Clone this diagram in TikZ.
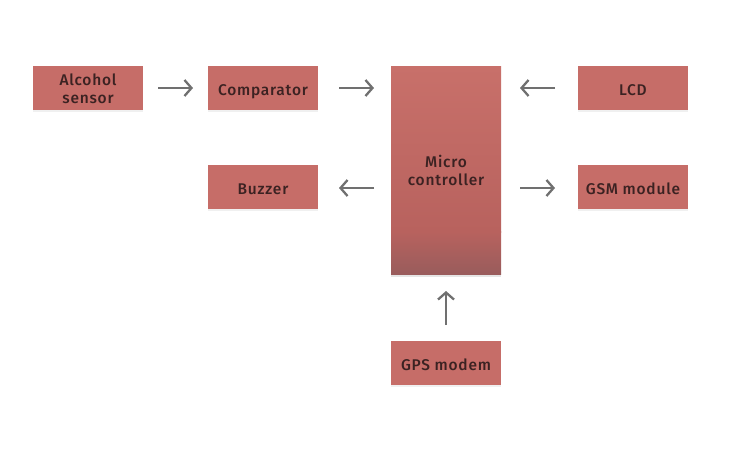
\documentclass[tikz,border=0pt]{standalone}
\usepackage{fontspec}
\setmainfont{Fira Sans}
\newfontfamily\labfont{Fira Sans Medium}[LetterSpace=5]
\usetikzlibrary{arrows.meta,shadows}
\definecolor{boxc}{HTML}{C66D68}
\definecolor{txtc}{HTML}{3B2222}
\definecolor{arrc}{HTML}{707070}
\definecolor{mctop}{HTML}{C8706A}
\definecolor{mcmid}{HTML}{B8625E}
\definecolor{mcbot}{HTML}{995C5C}
\begin{document}
\begin{tikzpicture}[x=1pt,y=-1pt,
  blk/.style={fill=boxc,draw=none,minimum width=110pt,minimum height=44pt,inner sep=0pt,
    drop shadow={opacity=0.12,shadow xshift=0pt,shadow yshift=-2pt}},
  lbl/.style={text=txtc,font=\labfont\fontsize{15.5}{18}\selectfont,align=center,inner sep=0pt},
  conn/.style={draw=arrc,line width=2.3pt,-{Straight Barb[length=7pt,width=16pt,line width=2.3pt]}}]
\useasboundingbox (0,0) rectangle (729,456);
\node[blk] (alc) at (88,88) {};
\node[lbl] at (88,89) {Alcohol\\sensor};
\node[blk] (cmp) at (263,88) {};
\node[lbl] at (263,92) {Comparator};
\node[blk] (lcd) at (633,88) {};
\node[lbl] at (633,90) {LCD};
\node[blk] (buz) at (263,187) {};
\node[lbl] at (263,189) {Buzzer};
\node[blk] (gsm) at (633,187) {};
\node[lbl] at (633,189) {GSM module};
\node[blk] (gps) at (446,363) {};
\node[lbl] at (446,365) {GPS modem};
% microcontroller
\fill[black,opacity=0.10] (391,270) rectangle (501,277);
\shade[top color=mctop,bottom color=mcmid] (391,66) rectangle (501,232);
\shade[top color=mcmid,bottom color=mcbot] (391,231.5) rectangle (501,274);
\node[inner sep=0pt,minimum width=110pt,minimum height=208pt] (mc) at (446,170) {};
\node[lbl] (mct) at (446,170) {Micro\\controller};
% connectors
\coordinate (a1s) at (158,88); \coordinate (a1e) at (193,88);
\coordinate (a2s) at (339,88); \coordinate (a2e) at (374,88);
\coordinate (a3s) at (555,88); \coordinate (a3e) at (520,88);
\coordinate (a4s) at (374,188); \coordinate (a4e) at (339,188);
\coordinate (a5s) at (520,188); \coordinate (a5e) at (555,188);
\coordinate (a6s) at (446,325); \coordinate (a6e) at (446,291);
\draw[conn] (a1s) -- (a1e);
\draw[conn] (a2s) -- (a2e);
\draw[conn] (a3s) -- (a3e);
\draw[conn] (a4s) -- (a4e);
\draw[conn] (a5s) -- (a5e);
\draw[conn] (a6s) -- (a6e);
\end{tikzpicture}
\end{document}
